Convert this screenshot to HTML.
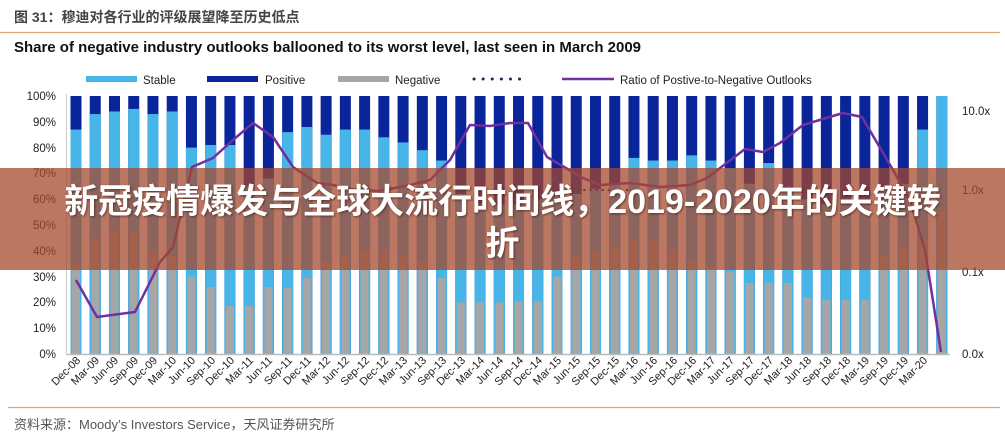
<!DOCTYPE html>
<html><head><meta charset="utf-8"><style>
html,body{margin:0;padding:0;background:#fff;}
body{width:1005px;height:441px;position:relative;overflow:hidden;font-family:"Liberation Sans","Noto Sans CJK SC",sans-serif;}
#banner{position:absolute;left:0;top:168px;width:1005px;height:102px;background:rgba(165,72,45,0.74);}
#btext{position:absolute;left:0;top:181px;width:1005px;text-align:center;color:#fff;font-weight:bold;font-size:34px;line-height:42px;font-family:"Liberation Sans","Noto Sans CJK SC",sans-serif;text-shadow:1px 1px 2px rgba(60,20,10,0.6);}
</style></head><body>
<svg width="1005" height="441" viewBox="0 0 1005 441" xmlns="http://www.w3.org/2000/svg" style="position:absolute;left:0;top:0" font-family="Liberation Sans, Noto Sans CJK SC, sans-serif">
<text x="14" y="22" font-size="14" font-weight="bold" fill="#444">图 31：穆迪对各行业的评级展望降至历史低点</text>
<line x1="0" y1="32.5" x2="1000" y2="32.5" stroke="#e3a66f" stroke-width="1.2"/>
<text x="14" y="52" font-size="15" font-weight="bold" fill="#111" textLength="627" lengthAdjust="spacingAndGlyphs">Share of negative industry outlooks ballooned to its worst level, last seen in March 2009</text>
<rect x="86" y="76" width="51" height="6" fill="#47b5e8"/><text x="143" y="84" font-size="11.5" fill="#222">Stable</text>
<rect x="207" y="76" width="51" height="6" fill="#0a249a"/><text x="265" y="84" font-size="11.5" fill="#222">Positive</text>
<rect x="338" y="76" width="51" height="6" fill="#a6a6a6"/><text x="395" y="84" font-size="11.5" fill="#222">Negative</text>
<line x1="474" y1="79" x2="528" y2="79" stroke="#1f2d5a" stroke-width="3" stroke-dasharray="0.1 9" stroke-linecap="round"/>
<line x1="562" y1="79" x2="614" y2="79" stroke="#7030a0" stroke-width="2.5"/><text x="620" y="84" font-size="11.5" fill="#222">Ratio of Postive-to-Negative Outlooks</text>
<g font-size="11.5" fill="#222" text-anchor="end">
<text x="56" y="100">100%</text><text x="56" y="126">90%</text><text x="56" y="152">80%</text><text x="56" y="177">70%</text><text x="56" y="203">60%</text><text x="56" y="229">50%</text><text x="56" y="255">40%</text><text x="56" y="281">30%</text><text x="56" y="306">20%</text><text x="56" y="332">10%</text><text x="56" y="358">0%</text>
</g>
<g font-size="11.5" fill="#222">
<text x="962" y="115">10.0x</text><text x="962" y="194">1.0x</text><text x="962" y="276">0.1x</text><text x="962" y="358">0.0x</text>
</g>
<g id="bars"></g>
<line x1="66" y1="354.5" x2="950" y2="354.5" stroke="#bbb" stroke-width="1.5"/>
<line x1="66.5" y1="94" x2="66.5" y2="355" stroke="#ccc" stroke-width="1"/>
<line x1="560" y1="190" x2="628" y2="190" stroke="#1f2d5a" stroke-width="2.5" stroke-dasharray="0.1 6" stroke-linecap="round"/>
<polyline fill="none" stroke="#7030a0" stroke-width="2.5" stroke-linejoin="round" points="76,280 97,317 135,312 160,262 173,247 192,167 213,158 233,140 253,123 273,137 293,167 317,183 333,185 350,189 380,191 410,185 430,180 450,160 470,125 490,126 510,123 528,123 547,157 583,178 600,185 630,183 660,187 690,185 707,178 745,149 763,152 780,143 803,125 843,113 862,117 893,170 910,200 925,250 941,352"/>
<g id="xl" font-size="11" fill="#222" text-anchor="end">
<text transform="translate(81,361) rotate(-45)">Dec-08</text>
<text transform="translate(100,361) rotate(-45)">Mar-09</text>
<text transform="translate(119,361) rotate(-45)">Jun-09</text>
<text transform="translate(139,361) rotate(-45)">Sep-09</text>
<text transform="translate(158,361) rotate(-45)">Dec-09</text>
<text transform="translate(177,361) rotate(-45)">Mar-10</text>
<text transform="translate(196,361) rotate(-45)">Jun-10</text>
<text transform="translate(216,361) rotate(-45)">Sep-10</text>
<text transform="translate(235,361) rotate(-45)">Dec-10</text>
<text transform="translate(254,361) rotate(-45)">Mar-11</text>
<text transform="translate(273,361) rotate(-45)">Jun-11</text>
<text transform="translate(293,361) rotate(-45)">Sep-11</text>
<text transform="translate(312,361) rotate(-45)">Dec-11</text>
<text transform="translate(331,361) rotate(-45)">Mar-12</text>
<text transform="translate(350,361) rotate(-45)">Jun-12</text>
<text transform="translate(370,361) rotate(-45)">Sep-12</text>
<text transform="translate(389,361) rotate(-45)">Dec-12</text>
<text transform="translate(408,361) rotate(-45)">Mar-13</text>
<text transform="translate(427,361) rotate(-45)">Jun-13</text>
<text transform="translate(447,361) rotate(-45)">Sep-13</text>
<text transform="translate(466,361) rotate(-45)">Dec-13</text>
<text transform="translate(485,361) rotate(-45)">Mar-14</text>
<text transform="translate(504,361) rotate(-45)">Jun-14</text>
<text transform="translate(524,361) rotate(-45)">Sep-14</text>
<text transform="translate(543,361) rotate(-45)">Dec-14</text>
<text transform="translate(562,361) rotate(-45)">Mar-15</text>
<text transform="translate(581,361) rotate(-45)">Jun-15</text>
<text transform="translate(601,361) rotate(-45)">Sep-15</text>
<text transform="translate(620,361) rotate(-45)">Dec-15</text>
<text transform="translate(639,361) rotate(-45)">Mar-16</text>
<text transform="translate(658,361) rotate(-45)">Jun-16</text>
<text transform="translate(678,361) rotate(-45)">Sep-16</text>
<text transform="translate(697,361) rotate(-45)">Dec-16</text>
<text transform="translate(716,361) rotate(-45)">Mar-17</text>
<text transform="translate(735,361) rotate(-45)">Jun-17</text>
<text transform="translate(755,361) rotate(-45)">Sep-17</text>
<text transform="translate(774,361) rotate(-45)">Dec-17</text>
<text transform="translate(793,361) rotate(-45)">Mar-18</text>
<text transform="translate(812,361) rotate(-45)">Jun-18</text>
<text transform="translate(832,361) rotate(-45)">Sep-18</text>
<text transform="translate(851,361) rotate(-45)">Dec-18</text>
<text transform="translate(870,361) rotate(-45)">Mar-19</text>
<text transform="translate(889,361) rotate(-45)">Sep-19</text>
<text transform="translate(909,361) rotate(-45)">Dec-19</text>
<text transform="translate(928,361) rotate(-45)">Mar-20</text>
</g>
<line x1="8" y1="407.5" x2="1000" y2="407.5" stroke="#e3a66f" stroke-width="1.2"/>
<text x="14" y="429" font-size="13" fill="#555">资料来源：Moody’s Investors Service，天风证券研究所</text>
</svg>
<div id="banner"></div>
<div id="btext">新冠疫情爆发与全球大流行时间线，2019-2020年的关键转<br>折</div>
<script>
var st=[87,93,94,95,93,94,80,81,81,65,68,86,88,85,87,87,84,82,79,75,62,58,58,58,60,62,62,64,66,76,75,75,77,75,72,66,74,64,60,58,58,58,64,66,87,100];
var ng=[35,45,48,47,40,38,30,26,18.6,18.6,26,25.5,29.5,36,38,40,40,38,36,29.5,20,20,20,20.5,20.5,30,38,40,42,44,44,40,36,34,32,27.5,27.5,27.5,22,21,21,21,38,42,44,55];
var g=document.getElementById('bars'),h='';
function Y(p){return 354-p*2.58;}
for(var i=0;i<46;i++){var x=76+i*19.24-5.5;
h+='<rect x="'+x+'" y="96" width="11" height="258" fill="#0a249a"/>';
h+='<rect x="'+x+'" y="'+Y(st[i])+'" width="11" height="'+(st[i]*2.58)+'" fill="#47b5e8"/>';
h+='<rect x="'+(x+1.5)+'" y="'+Y(ng[i])+'" width="8" height="'+(ng[i]*2.58)+'" fill="#a6a6a6"/>';}
g.innerHTML=h;
</script>
</body></html>
